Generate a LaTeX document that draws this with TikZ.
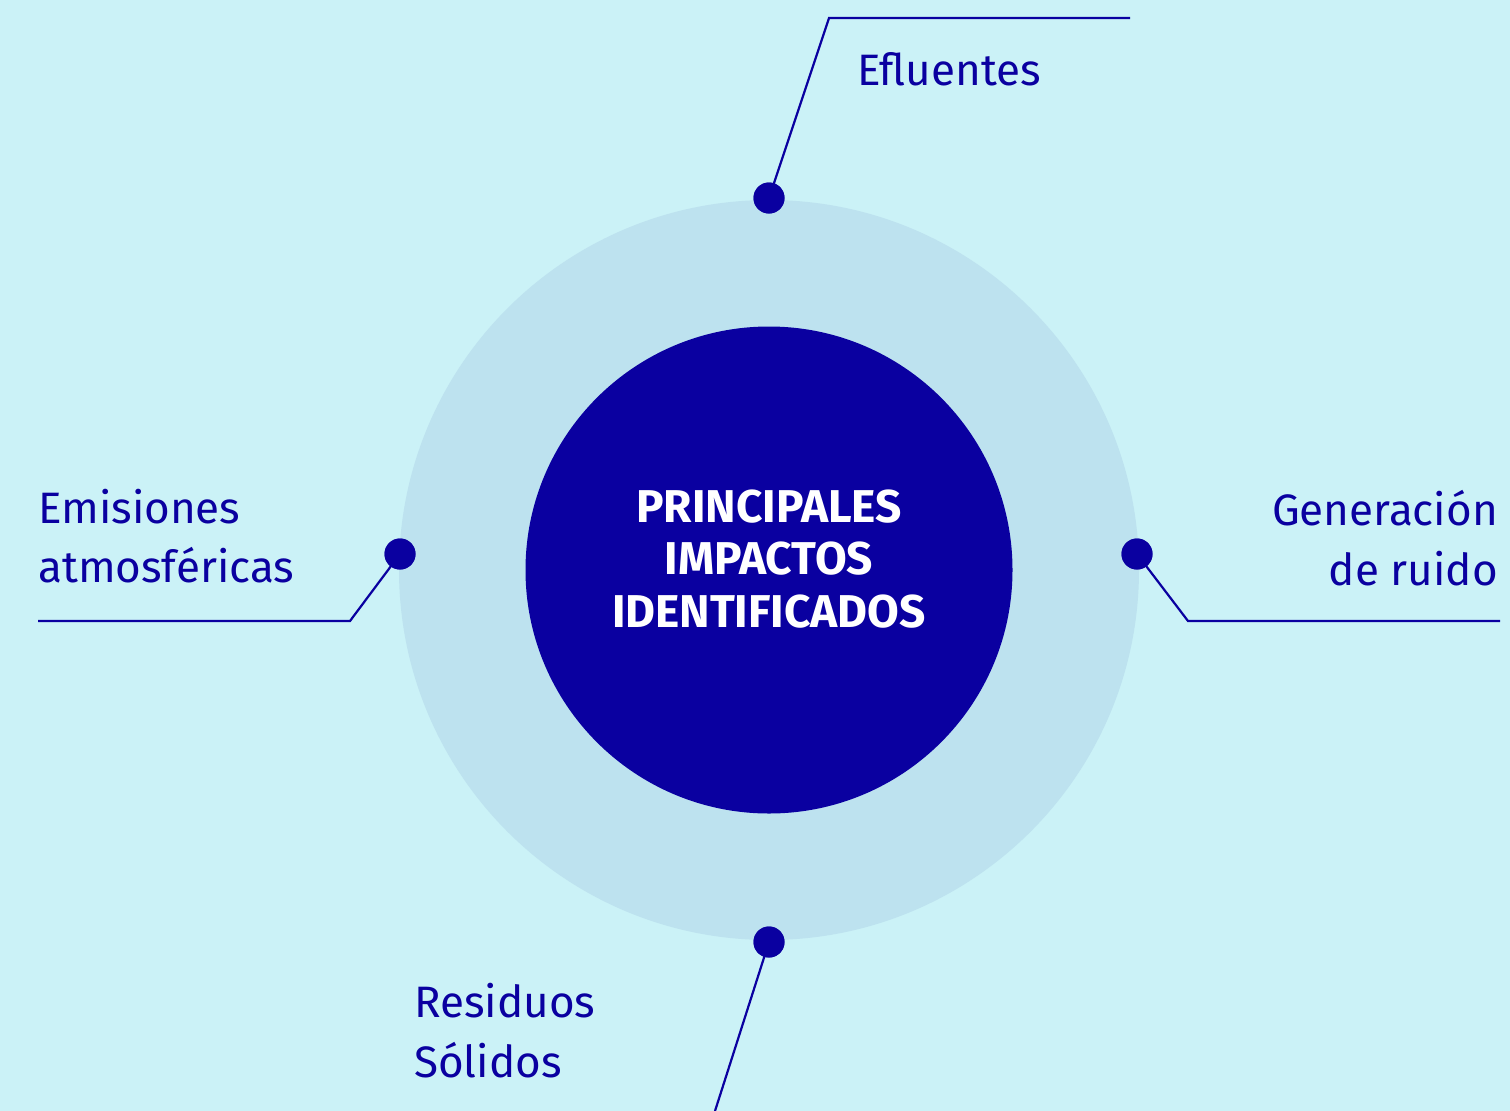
\documentclass[tikz,border=0pt]{standalone}
\usepackage{fontspec}
\setmainfont{Fira Sans}
\definecolor{bgc}{HTML}{CBF2F7}
\definecolor{ringc}{HTML}{BDE2EF}
\definecolor{navy}{HTML}{0A00A0}
\begin{document}
\begin{tikzpicture}[x=1pt,y=-1pt,
  dot/.style={circle,fill=navy,inner sep=0pt,minimum size=31pt},
  conn/.style={draw=navy,line width=2.2pt},
  lbl/.style={inner sep=0pt,text=navy,font=\fontsize{44}{56}\selectfont},
  ctr/.style={inner sep=0pt,text=white,font=\bfseries\fontsize{46}{52}\selectfont}]
\useasboundingbox[fill=bgc] (0,0) rectangle (1510,1111);
\node[circle,fill=ringc,inner sep=0pt,minimum size=740pt] (ring) at (769,570) {};
\node[circle,fill=navy,inner sep=0pt,minimum size=487pt] (core) at (769,570) {};
\node[ctr,anchor=base] (t1) at (769,522) {PRINCIPALES};
\node[ctr,anchor=base] (t2) at (769,574) {IMPACTOS};
\node[ctr,anchor=base] (t3) at (769,627) {IDENTIFICADOS};
\coordinate (ta) at (829,18); \coordinate (tb) at (1130,18);
\coordinate (la) at (350,621); \coordinate (lb) at (38,621);
\coordinate (ra) at (1188,621); \coordinate (rb) at (1500,621);
\coordinate (bb) at (715,1111);
\node[dot] (dt) at (769,198) {};
\node[dot] (dl) at (400,554) {};
\node[dot] (dr) at (1137,554) {};
\node[dot] (db) at (769,942) {};
\draw[conn] (dt.center) -- (ta) -- (tb);
\draw[conn] (dl.center) -- (la) -- (lb);
\draw[conn] (dr.center) -- (ra) -- (rb);
\draw[conn] (db.center) -- (bb);
\node[dot] at (dt) {};
\node[dot] at (dl) {};
\node[dot] at (dr) {};
\node[dot] at (db) {};
\node[lbl,anchor=base west] (ef) at (857,85) {Efluentes};
\node[lbl,anchor=base west] (em1) at (38,523) {Emisiones};
\node[lbl,anchor=base west] (em2) at (38,582) {atmosféricas};
\node[lbl,anchor=base east] (ge1) at (1498,525) {Generación};
\node[lbl,anchor=base east] (ge2) at (1498,585) {de ruido};
\node[lbl,anchor=base west] (re1) at (414,1017) {Residuos};
\node[lbl,anchor=base west] (re2) at (414,1077) {Sólidos};
\end{tikzpicture}
\end{document}
